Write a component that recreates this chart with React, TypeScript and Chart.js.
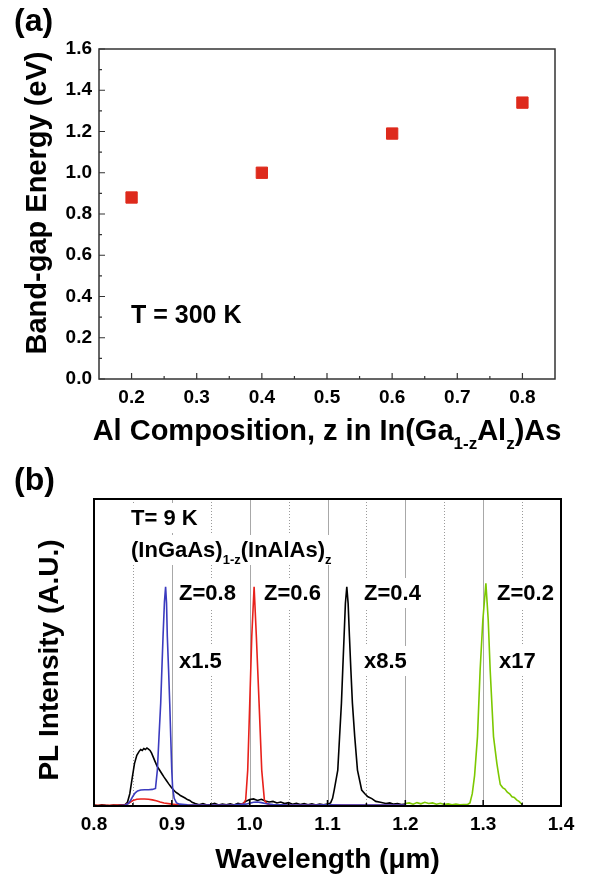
import React, { useEffect, useRef } from "react";
import { Chart, registerables } from "chart.js";

Chart.register(...registerables);

const FONT = 'Arial, "Liberation Sans", Helvetica, sans-serif';

// ---------- Panel (a): band-gap energy vs Al composition ----------
const compositionZ = [0.2, 0.4, 0.6, 0.8];
const bandGapEV = [0.88, 1.0, 1.19, 1.34];
const aXTicks = [0.2, 0.3, 0.4, 0.5, 0.6, 0.7, 0.8];
const aXMinor = [0.25, 0.35, 0.45, 0.55, 0.65, 0.75];
const aYTicks = [0.0, 0.2, 0.4, 0.6, 0.8, 1.0, 1.2, 1.4, 1.6];
const aYMinor = [0.1, 0.3, 0.5, 0.7, 0.9, 1.1, 1.3, 1.5];

// ---------- Panel (b): PL spectra at 9 K ----------
const bXTicks = [0.8, 0.9, 1.0, 1.1, 1.2, 1.3, 1.4];
const bXMinor = [0.85, 0.95, 1.05, 1.15, 1.25, 1.35];
const bGridSolid = [0.9, 1.0, 1.1, 1.2, 1.3];
const bGridDotted = [0.85, 0.95, 1.05, 1.15, 1.25, 1.35];

// Z = 0.8 (blue, x1.5)
const wlZ08 = [0.800, 0.810, 0.820, 0.830, 0.840, 0.844, 0.847, 0.850, 0.853, 0.856, 0.860, 0.865, 0.870, 0.875, 0.879, 0.8814, 0.8835, 0.8857, 0.8872, 0.8887, 0.8905, 0.892, 0.8932, 0.8942, 0.8958, 0.8973, 0.8986, 0.8999, 0.901, 0.903, 0.906, 0.910, 0.920, 0.940, 0.960, 0.980, 0.995, 1.000, 1.005, 1.010, 1.015, 1.020, 1.030, 1.050, 1.080, 1.100, 1.120, 1.150, 1.180, 1.200];
const plZ08 = [0.000, 0.001, 0.000, 0.001, 0.003, 0.008, 0.018, 0.032, 0.043, 0.049, 0.052, 0.053, 0.053, 0.054, 0.057, 0.117, 0.225, 0.335, 0.445, 0.552, 0.665, 0.714, 0.660, 0.552, 0.445, 0.335, 0.225, 0.117, 0.060, 0.025, 0.010, 0.006, 0.004, 0.003, 0.003, 0.004, 0.006, 0.009, 0.012, 0.013, 0.011, 0.008, 0.005, 0.003, 0.003, 0.004, 0.003, 0.003, 0.003, 0.003];

// Z = 0.6 (red)
const wlZ06 = [0.800, 0.820, 0.840, 0.845, 0.850, 0.855, 0.860, 0.865, 0.870, 0.875, 0.880, 0.885, 0.890, 0.900, 0.910, 0.930, 0.960, 0.985, 0.992, 0.9949, 0.9975, 1.0001, 1.0027, 1.0057, 1.0086, 1.0121, 1.0155, 1.0189, 1.022, 1.026, 1.030, 1.040, 1.060, 1.100, 1.150, 1.200];
const plZ06 = [0.002, 0.002, 0.004, 0.010, 0.018, 0.022, 0.023, 0.023, 0.022, 0.020, 0.017, 0.013, 0.010, 0.006, 0.003, 0.002, 0.002, 0.003, 0.008, 0.020, 0.117, 0.335, 0.552, 0.714, 0.552, 0.335, 0.117, 0.020, 0.008, 0.004, 0.003, 0.002, 0.002, 0.003, 0.002, 0.002];

// Z = 0.4 (black, x8.5)
const wlZ04 = [0.800, 0.805, 0.810, 0.815, 0.820, 0.825, 0.830, 0.835, 0.840, 0.843, 0.846, 0.849, 0.852, 0.855, 0.858, 0.860, 0.862, 0.864, 0.866, 0.868, 0.870, 0.872, 0.874, 0.876, 0.878, 0.881, 0.884, 0.887, 0.890, 0.893, 0.896, 0.899, 0.902, 0.905, 0.908, 0.911, 0.914, 0.917, 0.920, 0.923, 0.926, 0.930, 0.935, 0.940, 0.945, 0.950, 0.955, 0.960, 0.965, 0.970, 0.975, 0.980, 0.985, 0.990, 0.995, 1.000, 1.005, 1.010, 1.015, 1.020, 1.025, 1.030, 1.035, 1.040, 1.045, 1.050, 1.055, 1.060, 1.065, 1.070, 1.075, 1.080, 1.085, 1.090, 1.095, 1.100, 1.104, 1.1065, 1.1086, 1.1132, 1.1155, 1.1179, 1.1196, 1.1213, 1.123, 1.1248, 1.1265, 1.1282, 1.130, 1.132, 1.135, 1.1385, 1.1439, 1.148, 1.152, 1.157, 1.162, 1.168, 1.175, 1.180, 1.185, 1.190, 1.195, 1.200];
const plZ04 = [0.003, 0.001, 0.004, 0.002, 0.001, 0.003, 0.002, 0.004, 0.005, 0.012, 0.040, 0.090, 0.138, 0.165, 0.178, 0.184, 0.181, 0.187, 0.184, 0.189, 0.185, 0.181, 0.172, 0.160, 0.148, 0.130, 0.118, 0.106, 0.094, 0.083, 0.072, 0.062, 0.053, 0.045, 0.040, 0.034, 0.030, 0.026, 0.021, 0.018, 0.012, 0.008, 0.004, 0.008, 0.003, 0.005, 0.009, 0.003, 0.006, 0.004, 0.007, 0.003, 0.009, 0.006, 0.015, 0.021, 0.023, 0.018, 0.022, 0.016, 0.013, 0.015, 0.010, 0.013, 0.008, 0.011, 0.006, 0.009, 0.005, 0.008, 0.004, 0.007, 0.003, 0.006, 0.004, 0.006, 0.010, 0.025, 0.052, 0.117, 0.225, 0.335, 0.445, 0.552, 0.660, 0.714, 0.660, 0.552, 0.445, 0.335, 0.225, 0.117, 0.052, 0.040, 0.030, 0.024, 0.015, 0.012, 0.008, 0.010, 0.006, 0.008, 0.005, 0.006];

// Z = 0.2 (green, x17)
const wlZ02 = [1.200, 1.205, 1.210, 1.215, 1.220, 1.225, 1.230, 1.235, 1.240, 1.245, 1.250, 1.255, 1.260, 1.265, 1.270, 1.275, 1.280, 1.283, 1.286, 1.289, 1.2927, 1.2961, 1.2996, 1.3035, 1.3065, 1.309, 1.3133, 1.3176, 1.320, 1.322, 1.325, 1.328, 1.331, 1.334, 1.337, 1.340, 1.343, 1.346, 1.348, 1.350];
const plZ02 = [0.008, 0.010, 0.006, 0.011, 0.007, 0.012, 0.008, 0.010, 0.006, 0.009, 0.005, 0.007, 0.004, 0.006, 0.004, 0.005, 0.005, 0.010, 0.040, 0.100, 0.226, 0.443, 0.606, 0.725, 0.606, 0.443, 0.226, 0.139, 0.100, 0.070, 0.060, 0.055, 0.045, 0.040, 0.030, 0.028, 0.020, 0.015, 0.010, 0.005];

type Seg = { t: string; sub?: boolean };

function drawRich(ctx: CanvasRenderingContext2D, segs: Seg[], x: number, y: number, size: number, align: "left" | "center") {
  const subSize = Math.round(size * 0.6);
  const widths = segs.map((s) => {
    ctx.font = `bold ${s.sub ? subSize : size}px ${FONT}`;
    return ctx.measureText(s.t).width;
  });
  const total = widths.reduce((a, b) => a + b, 0);
  let cx = align === "center" ? x - total / 2 : x;
  ctx.textAlign = "left";
  ctx.textBaseline = "alphabetic";
  segs.forEach((s, i) => {
    ctx.font = `bold ${s.sub ? subSize : size}px ${FONT}`;
    ctx.fillText(s.t, cx, s.sub ? y + size * 0.32 : y);
    cx += widths[i];
  });
  return total;
}

function pts(xs: number[], ys: number[]) {
  return xs.map((x, i) => ({ x, y: ys[i] }));
}

const decorA = {
  id: "decorA",
  afterDraw(chart: any) {
    const { ctx, chartArea: ca, scales } = chart;
    const xs = scales.x;
    const ys = scales.y;
    ctx.save();
    ctx.strokeStyle = "#333";
    ctx.lineWidth = 1.5;
    ctx.strokeRect(ca.left, ca.top, ca.right - ca.left, ca.bottom - ca.top);
    ctx.lineWidth = 1.2;
    ctx.beginPath();
    aXTicks.forEach((v) => { const p = xs.getPixelForValue(v); ctx.moveTo(p, ca.bottom); ctx.lineTo(p, ca.bottom - 6); });
    aXMinor.forEach((v) => { const p = xs.getPixelForValue(v); ctx.moveTo(p, ca.bottom); ctx.lineTo(p, ca.bottom - 3); });
    aYTicks.forEach((v) => { const p = ys.getPixelForValue(v); ctx.moveTo(ca.left, p); ctx.lineTo(ca.left + 6, p); });
    aYMinor.forEach((v) => { const p = ys.getPixelForValue(v); ctx.moveTo(ca.left, p); ctx.lineTo(ca.left + 3, p); });
    ctx.stroke();

    ctx.fillStyle = "#000";
    ctx.font = `bold 32px ${FONT}`;
    ctx.textAlign = "left";
    ctx.textBaseline = "alphabetic";
    ctx.fillText("(a)", 14, 31);
    ctx.font = `bold 25px ${FONT}`;
    ctx.fillText("T = 300 K", 131, 323);
    drawRich(ctx, [
      { t: "Al Composition, z in In(Ga" },
      { t: "1-z", sub: true },
      { t: "Al" },
      { t: "z", sub: true },
      { t: ")As" },
    ], (ca.left + ca.right) / 2, 440, 29, "center");
    ctx.save();
    ctx.translate(46, 203);
    ctx.rotate(-Math.PI / 2);
    ctx.font = `bold 29px ${FONT}`;
    ctx.textAlign = "center";
    ctx.textBaseline = "alphabetic";
    ctx.fillText("Band-gap Energy (eV)", 0, 0);
    ctx.restore();
    ctx.restore();
  },
};

type Label = { segs: Seg[]; x: number; y: number };
const bLabels: Label[] = [
  { segs: [{ t: "T= 9 K" }], x: 131, y: 75 },
  { segs: [{ t: "(InGaAs)" }, { t: "1-z", sub: true }, { t: "(InAlAs)" }, { t: "z", sub: true }], x: 131, y: 107 },
  { segs: [{ t: "Z=0.8" }], x: 179, y: 150 },
  { segs: [{ t: "Z=0.6" }], x: 264, y: 150 },
  { segs: [{ t: "Z=0.4" }], x: 364, y: 150 },
  { segs: [{ t: "Z=0.2" }], x: 497, y: 150 },
  { segs: [{ t: "x1.5" }], x: 179, y: 218 },
  { segs: [{ t: "x8.5" }], x: 364, y: 218 },
  { segs: [{ t: "x17" }], x: 499, y: 218 },
];

const decorB = {
  id: "decorB",
  beforeDatasetsDraw(chart: any) {
    const { ctx, chartArea: ca, scales } = chart;
    const xs = scales.x;
    ctx.save();
    ctx.lineWidth = 1;
    ctx.strokeStyle = "#a8a8a8";
    ctx.setLineDash([]);
    ctx.beginPath();
    bGridSolid.forEach((v) => { const p = Math.round(xs.getPixelForValue(v)) + 0.5; ctx.moveTo(p, ca.top); ctx.lineTo(p, ca.bottom); });
    ctx.stroke();
    ctx.strokeStyle = "#9a9a9a";
    ctx.setLineDash([1, 2]);
    ctx.beginPath();
    bGridDotted.forEach((v) => { const p = Math.round(xs.getPixelForValue(v)) + 0.5; ctx.moveTo(p, ca.top); ctx.lineTo(p, ca.bottom); });
    ctx.stroke();
    ctx.restore();
  },
  afterDatasetsDraw(chart: any) {
    const { ctx, chartArea: ca, scales } = chart;
    const xs = scales.x;
    ctx.save();
    ctx.strokeStyle = "#000";
    ctx.lineWidth = 2;
    ctx.strokeRect(ca.left, ca.top, ca.right - ca.left, ca.bottom - ca.top);
    ctx.lineWidth = 1.5;
    ctx.beginPath();
    bXTicks.forEach((v) => { const p = xs.getPixelForValue(v); ctx.moveTo(p, ca.bottom); ctx.lineTo(p, ca.bottom - 6); });
    bXMinor.forEach((v) => { const p = xs.getPixelForValue(v); ctx.moveTo(p, ca.bottom); ctx.lineTo(p, ca.bottom - 3); });
    ctx.stroke();

    bLabels.forEach((l) => {
      let w = 0;
      l.segs.forEach((s) => {
        ctx.font = `bold ${s.sub ? 13 : 22}px ${FONT}`;
        w += ctx.measureText(s.t).width;
      });
      ctx.fillStyle = "#fff";
      ctx.fillRect(l.x - 3, l.y - 22, w + 6, 30);
      ctx.fillStyle = "#000";
      drawRich(ctx, l.segs, l.x, l.y, 22, "left");
    });

    ctx.fillStyle = "#000";
    ctx.font = `bold 32px ${FONT}`;
    ctx.textAlign = "left";
    ctx.textBaseline = "alphabetic";
    ctx.fillText("(b)", 14, 40);
    ctx.font = `bold 28px ${FONT}`;
    ctx.textAlign = "center";
    ctx.fillText("Wavelength (\u03bcm)", (ca.left + ca.right) / 2, 418);
    ctx.save();
    ctx.translate(58, 210);
    ctx.rotate(-Math.PI / 2);
    ctx.font = `bold 28px ${FONT}`;
    ctx.textAlign = "center";
    ctx.fillText("PL Intensity (A.U.)", 0, 0);
    ctx.restore();
    ctx.restore();
  },
};

export default function App() {
  const refA = useRef<HTMLCanvasElement | null>(null);
  const refB = useRef<HTMLCanvasElement | null>(null);

  useEffect(() => {
    if (!refA.current || !refB.current) return;
    const tickFont = { family: FONT, size: 19, weight: "bold" as const };

    const chartA = new Chart(refA.current, {
      type: "scatter",
      data: {
        datasets: [
          {
            data: pts(compositionZ, bandGapEV),
            pointStyle: "rect",
            pointRadius: 8,
            pointBackgroundColor: "#de2a1c",
            pointBorderColor: "#de2a1c",
            pointBorderWidth: 1,
            showLine: false,
          },
        ],
      },
      options: {
        responsive: false,
        animation: false,
        devicePixelRatio: 1,
        events: [],
        layout: { padding: { left: 0, top: 49, right: 37, bottom: 0 } },
        plugins: { legend: { display: false }, tooltip: { enabled: false } },
        scales: {
          x: {
            type: "linear",
            min: 0.15,
            max: 0.85,
            afterBuildTicks: (s: any) => { s.ticks = aXTicks.map((v) => ({ value: v })); },
            afterFit: (s: any) => { s.height = 71; },
            grid: { display: false, drawTicks: false },
            border: { display: false },
            ticks: { font: tickFont, color: "#000", padding: 7, callback: (v: any) => Number(v).toFixed(1) },
          },
          y: {
            type: "linear",
            min: 0,
            max: 1.6,
            afterBuildTicks: (s: any) => { s.ticks = aYTicks.map((v) => ({ value: v })); },
            afterFit: (s: any) => { s.width = 99; },
            grid: { display: false, drawTicks: false },
            border: { display: false },
            ticks: { font: tickFont, color: "#000", padding: 7, callback: (v: any) => Number(v).toFixed(1) },
          },
        },
      },
      plugins: [decorA],
    } as any);

    const lineDs = (data: any, color: string) => ({
      data,
      borderColor: color,
      borderWidth: 1.6,
      pointRadius: 0,
      fill: false,
      tension: 0,
    });

    const chartB = new Chart(refB.current, {
      type: "line",
      data: {
        datasets: [
          lineDs(pts(wlZ08, plZ08), "#3b3bbf"),
          lineDs(pts(wlZ02, plZ02), "#7cc800"),
          lineDs(pts(wlZ06, plZ06), "#e8211b"),
          lineDs(pts(wlZ04, plZ04), "#000000"),
        ],
      },
      options: {
        responsive: false,
        animation: false,
        devicePixelRatio: 1,
        events: [],
        layout: { padding: { left: 94, top: 49, right: 31, bottom: 0 } },
        plugins: { legend: { display: false }, tooltip: { enabled: false } },
        scales: {
          x: {
            type: "linear",
            min: 0.8,
            max: 1.4,
            afterBuildTicks: (s: any) => { s.ticks = bXTicks.map((v) => ({ value: v })); },
            afterFit: (s: any) => { s.height = 74; },
            grid: { display: false, drawTicks: false },
            border: { display: false },
            ticks: { font: tickFont, color: "#000", padding: 7, callback: (v: any) => Number(v).toFixed(1) },
          },
          y: { type: "linear", min: 0, max: 1, display: false },
        },
      },
      plugins: [decorB],
    } as any);

    return () => {
      chartA.destroy();
      chartB.destroy();
    };
  }, []);

  return (
    <div style={{ position: "absolute", left: 0, top: 0, width: 592, height: 880, background: "#fff" }}>
      <canvas ref={refA} width={592} height={450} style={{ position: "absolute", left: 0, top: 0, width: 592, height: 450 }} />
      <canvas ref={refB} width={592} height={430} style={{ position: "absolute", left: 0, top: 450, width: 592, height: 430 }} />
    </div>
  );
}
